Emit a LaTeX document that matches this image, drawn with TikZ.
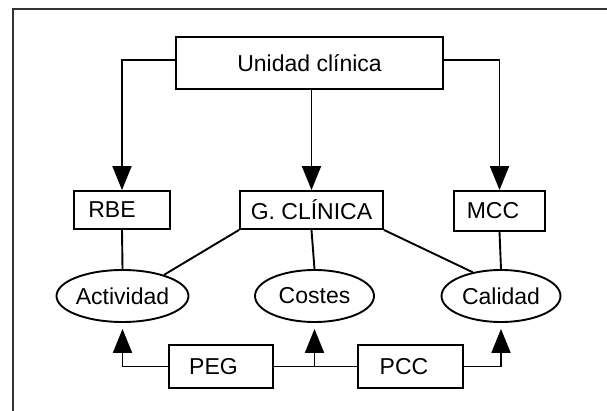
\documentclass[tikz,border=0pt]{standalone}
\usepackage{fontspec}
\setmainfont{Liberation Sans}
\usepackage{tikz}
\usetikzlibrary{arrows.meta,shapes.geometric}

\begin{document}
\begin{tikzpicture}[x=1pt,y=-1pt,
  box/.style={draw,line width=1.9pt,inner sep=0pt,minimum height=38pt},
  oval/.style={draw,ellipse,line width=1.9pt,inner sep=0pt,minimum width=119pt,minimum height=52pt},
  link/.style={line width=1.9pt},
  arr/.style={line width=1.9pt,-{Triangle[length=24pt,width=19pt]}},
  frame/.style={line width=1.3pt,black!80}]
\fontsize{23}{27}\selectfont
\useasboundingbox (0,0) rectangle (607,411);

% Frame
\draw[frame] (607,9) -- (13,9) -- (13,411);

% Top box
\node[box,minimum width=267pt,minimum height=52pt] (uc) at (309.5,63) {Unidad clínica};

% Middle boxes
\node[box,minimum width=96pt] (rbe) at (122,210) {RBE\hspace*{20pt}};
\node[box,minimum width=143pt] (gc) at (311.5,210) {G. CLÍNICA};
\node[box,minimum width=91pt,minimum height=40pt] (mcc) at (499.5,211) {MCC\hspace*{13pt}};

% Ellipses
\node[oval] (act) at (122.5,296) {Actividad};
\node[oval] (cos) at (314.5,296) {Costes};
\node[oval] (cal) at (501,296) {Calidad};

% Bottom boxes
\node[box,minimum width=104pt,minimum height=43pt] (peg) at (221,366.5) {PEG\hspace*{15pt}};
\node[box,minimum width=105pt,minimum height=43pt] (pcc) at (410.5,366.5) {PCC\hspace*{13pt}};

% Arrows from the top
\draw[arr] ([yshift=3pt]uc.west) -| (rbe.north);
\draw[arr] ([yshift=3pt]uc.east) -| (mcc.north);
\draw[arr] (uc.south -| gc.north) -- (gc.north);

% Links
\draw[link] (rbe.south) -- (act.north);
\draw[link] (gc.south west) -- (act.27);
\draw[link] (gc.south) -- (cos.north);
\draw[link] (gc.south east) -- (cal.140);
\draw[link] (mcc.south) -- (cal.north);

% Arrows from the bottom
\draw[arr,shorten >=6pt] (peg.west) -| (act.south);
\draw[link] (peg.east) -- (pcc.west);
\draw[arr,shorten >=6pt] (cos.south |- peg.east) -- (cos.south);
\draw[arr,shorten >=6pt] (pcc.east) -| (cal.south);

\end{tikzpicture}
\end{document}
